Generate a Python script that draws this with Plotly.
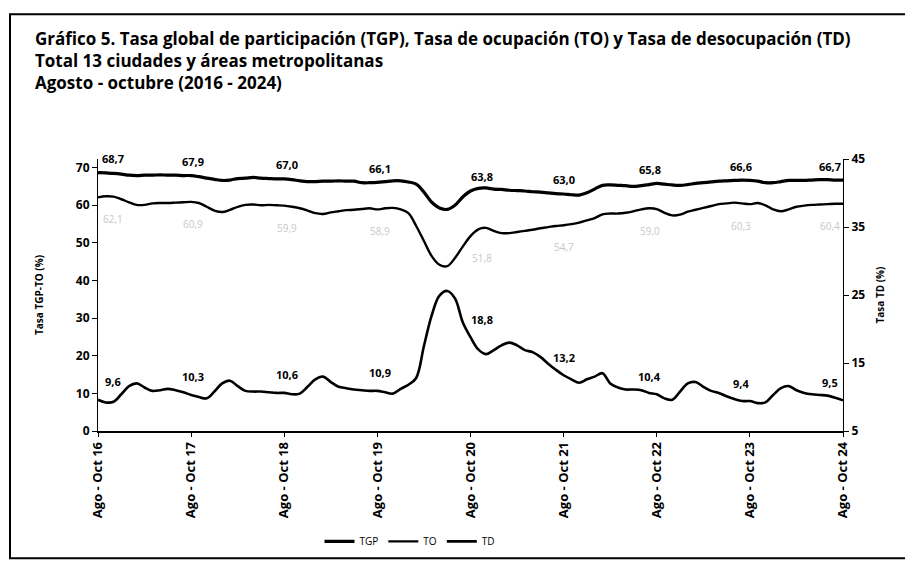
import plotly.graph_objects as go

# ---------------- data ----------------
quarters = ["Ago-Oct", "Sep-Nov", "Oct-Dic", "Nov-Ene", "Dic-Feb", "Ene-Mar",
            "Feb-Abr", "Mar-May", "Abr-Jun", "May-Jul", "Jun-Ago", "Jul-Sep"]
start_year = 16
n_periods = 97
periods = []
for i in range(n_periods):
    q = quarters[i % 12]
    yr = start_year + (i + 2) // 12 if i % 12 >= 3 else start_year + i // 12
    periods.append(f"{q} {yr}")

tgp = [68.7, 68.6, 68.5, 68.3, 68.0, 67.9, 68.0, 68.0, 68.1, 68.0, 68.0, 67.9,
       67.9, 67.6, 67.2, 66.9, 66.6, 66.7, 67.1, 67.2, 67.4, 67.2, 67.1, 67.0,
       67.0, 66.8, 66.5, 66.3, 66.3, 66.4, 66.4, 66.5, 66.4, 66.4, 66.0, 66.0,
       66.1, 66.3, 66.5, 66.5, 66.2, 65.6, 63.5, 60.8, 59.3, 58.9, 60.0, 62.2,
       63.8, 64.5, 64.6, 64.3, 64.2, 64.0, 63.9, 63.8, 63.6, 63.5, 63.3, 63.1,
       63.0, 62.8, 62.7, 63.3, 64.3, 65.3, 65.4, 65.3, 65.2, 65.0, 65.2, 65.5,
       65.8, 65.6, 65.4, 65.3, 65.5, 65.8, 66.0, 66.2, 66.4, 66.5, 66.6, 66.7,
       66.6, 66.4, 66.0, 66.0, 66.3, 66.6, 66.6, 66.6, 66.7, 66.8, 66.8, 66.7,
       66.7]

to = [62.1, 62.4, 62.3, 61.6, 60.8, 60.1, 60.1, 60.5, 60.6, 60.6, 60.7, 60.8,
      60.9, 60.6, 59.6, 58.6, 58.2, 58.8, 59.6, 60.1, 60.2, 60.0, 60.1, 60.0,
      59.9, 59.6, 59.2, 58.6, 57.9, 57.7, 58.1, 58.4, 58.7, 58.8, 59.0, 59.2,
      58.9, 59.2, 59.3, 58.9, 57.9, 54.5, 50.5, 46.5, 44.2, 43.8, 46.0, 49.0,
      51.8, 53.6, 54.0, 53.2, 52.6, 52.6, 52.9, 53.2, 53.5, 53.9, 54.2, 54.5,
      54.7, 55.0, 55.4, 56.0, 56.6, 57.6, 57.8, 57.8, 58.0, 58.4, 58.9, 59.2,
      59.0, 58.0, 57.3, 57.5, 58.3, 58.8, 59.3, 59.8, 60.3, 60.5, 60.7, 60.5,
      60.3, 60.6, 60.0, 58.9, 58.4, 58.9, 59.6, 59.9, 60.1, 60.2, 60.3, 60.4,
      60.4]

td = [9.6, 9.2, 9.3, 10.4, 11.6, 12.0, 11.4, 10.9, 11.0, 11.2, 11.0, 10.7,
      10.3, 10.0, 9.8, 10.8, 12.0, 12.4, 11.6, 10.9, 10.8, 10.8, 10.7, 10.6,
      10.6, 10.4, 10.5, 11.5, 12.6, 13.0, 12.2, 11.5, 11.3, 11.1, 11.0, 10.9,
      10.9, 10.7, 10.5, 11.2, 11.8, 12.8, 17.5, 22.0, 24.9, 25.6, 24.5, 21.0,
      18.8, 17.0, 16.3, 16.9, 17.6, 18.0, 17.6, 16.9, 16.6, 15.9, 14.9, 14.0,
      13.2, 12.6, 12.1, 12.6, 13.0, 13.5, 12.0, 11.4, 11.1, 11.1, 11.0, 10.6,
      10.4, 9.8, 9.6, 10.8, 12.0, 12.2, 11.5, 10.9, 10.6, 10.1, 9.7, 9.4,
      9.4, 9.1, 9.2, 10.3, 11.3, 11.6, 11.0, 10.6, 10.4, 10.3, 10.2, 9.9,
      9.5]

label_idx = [0, 12, 24, 36, 48, 60, 72, 84, 96]
tick_text = ["Ago - Oct 16", "Ago - Oct 17", "Ago - Oct 18", "Ago - Oct 19",
             "Ago - Oct 20", "Ago - Oct 21", "Ago - Oct 22", "Ago - Oct 23",
             "Ago - Oct 24"]
left_ticks = [0, 10, 20, 30, 40, 50, 60, 70]
right_ticks = [5, 15, 25, 35, 45]

# ---------------- styling ----------------
FONT = "Open Sans"
label_xshift = [15, 2, 3, 3, 11, 0, -7, -9, -13]

# page body adds an 8px margin; lay the figure out in page coordinates
OFF = 8
W, H = 913 - OFF, 568 - OFF
L, R, T, B = 98 - OFF, 913 - 843, 159 - OFF, 568 - 435
pw, ph = W - L - R, H - T - B
def px(xp):
    return (xp - OFF - L) / pw
def py(yp):
    return (H - B - (yp - OFF)) / ph

fig = go.Figure()
fig.add_trace(go.Scatter(x=periods, y=tgp, name="TGP", mode="lines",
                         line=dict(color="black", width=3.2, shape="spline")))
fig.add_trace(go.Scatter(x=periods, y=to, name="TO", mode="lines",
                         line=dict(color="black", width=2.4, shape="spline")))
fig.add_trace(go.Scatter(x=periods, y=td, name="TD", mode="lines", yaxis="y2",
                         line=dict(color="black", width=2.6, shape="spline")))

ann = []
for k, i in enumerate(label_idx):
    ann.append(dict(x=periods[i], y=tgp[i], xref="x", yref="y",
                    text=f"{tgp[i]:.1f}".replace(".", ","), showarrow=False,
                    yshift=14, xshift=label_xshift[k],
                    font=dict(family=FONT, size=11, color="black", weight="bold")))
    ann.append(dict(x=periods[i], y=to[i], xref="x", yref="y",
                    text=f"{to[i]:.1f}".replace(".", ","), showarrow=False,
                    yshift=-22, xshift=label_xshift[k],
                    font=dict(family=FONT, size=10, color="#c8c8c8")))
    ann.append(dict(x=periods[i], y=td[i], xref="x", yref="y2",
                    text=f"{td[i]:.1f}".replace(".", ","), showarrow=False,
                    yshift=18, xshift=label_xshift[k],
                    font=dict(family=FONT, size=11, color="black", weight="bold")))

titles = ["Gráfico 5. Tasa global de participación (TGP), Tasa de ocupación (TO) y Tasa de desocupación (TD)",
          "Total 13 ciudades y áreas metropolitanas",
          "Agosto - octubre (2016 - 2024)"]

ann.append(dict(x=px(33), y=py(23), xref="paper", yref="paper",
                xanchor="left", yanchor="top", align="left",
                text="<br>".join(titles), showarrow=False,
                font=dict(family=FONT, size=17, color="black", weight="bold")))

fig.update_layout(
    width=W, height=H,
    margin=dict(l=L, r=R, t=T, b=B),
    paper_bgcolor="white", plot_bgcolor="white",
    font=dict(family=FONT, color="black"),
    showlegend=True,
    legend=dict(orientation="h", x=px(410), y=py(547), xanchor="center",
                yanchor="middle", font=dict(family=FONT, size=10, color="black"),
                itemwidth=30, tracegroupgap=0, bgcolor="rgba(0,0,0,0)"),
    xaxis=dict(type="category", range=[0, n_periods - 1],
               tickmode="array", tickvals=[periods[i] for i in label_idx],
               ticktext=tick_text, tickangle=-90, showgrid=False,
               showline=True, linecolor="black", linewidth=1.5,
               ticks="outside", ticklen=4, tickcolor="black",
               tickfont=dict(family=FONT, size=13, color="black", weight="bold"),
               zeroline=False),
    yaxis=dict(range=[0, 72.3], tickvals=left_ticks, showgrid=False,
               showline=True, linecolor="black", linewidth=1.2,
               ticks="outside", ticklen=5, tickcolor="black",
               tickfont=dict(family=FONT, size=12, color="black", weight="bold"),
               title=dict(text="Tasa TGP-TO (%)", standoff=30,
                          font=dict(family=FONT, size=10, color="black", weight="bold")),
               zeroline=False),
    yaxis2=dict(range=[5, 45], tickvals=right_ticks, overlaying="y", side="right",
                showgrid=False, showline=True, linecolor="black", linewidth=1,
                ticks="outside", ticklen=5, tickcolor="black",
                tickfont=dict(family=FONT, size=12, color="black", weight="bold"),
                title=dict(text="Tasa TD (%)", standoff=12,
                           font=dict(family=FONT, size=10, color="black", weight="bold")),
                zeroline=False),
    annotations=ann,
    shapes=[dict(type="rect", xref="paper", yref="paper",
                 x0=px(10), x1=px(906), y0=py(564), y1=py(12),
                 line=dict(color="black", width=2), fillcolor="rgba(0,0,0,0)",
                 layer="above")],
)

fig.write_html("out.html")
